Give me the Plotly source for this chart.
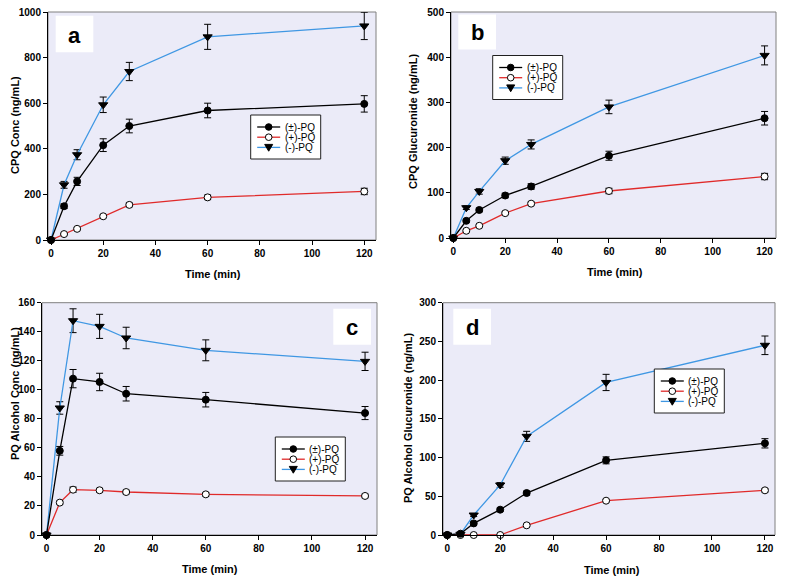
import plotly.graph_objects as go

W, H = 785, 577
OFF = 8  # page body margin offset in the browser
FONT = "Arial, Liberation Sans, sans-serif"

time_min = [0, 5, 10, 20, 30, 60, 120]
series_names = ["(±)-PQ", "(+)-PQ", "(-)-PQ"]

# Panel a: CPQ Conc (ng/mL)
a_rac = [0, 148, 257, 416, 500, 568, 597]
a_rac_err = [0, 10, 18, 28, 30, 32, 36]
a_plus = [0, 26, 49, 104, 154, 187, 213]
a_plus_err = [0, 4, 5, 6, 8, 10, 14]
a_minus = [0, 242, 374, 593, 739, 891, 939]
a_minus_err = [0, 15, 22, 34, 40, 55, 60]

# Panel b: CPQ Glucuronide (ng/mL)
b_rac = [0, 38, 62, 94, 114, 182, 265]
b_rac_err = [0, 3, 4, 5, 6, 10, 15]
b_plus = [0, 16, 27, 55, 76, 104, 136]
b_plus_err = [0, 2, 2, 3, 3, 6, 7]
b_minus = [0, 67, 103, 171, 207, 290, 404]
b_minus_err = [0, 4, 6, 8, 10, 15, 21]

# Panel c: PQ Alcohol Conc (ng/mL)
c_rac = [0, 58, 107.7, 105.4, 97.3, 93.2, 84]
c_rac_err = [0, 3, 6.3, 6, 5, 5, 4.5]
c_plus = [0, 22.3, 31.2, 30.8, 29.6, 28, 26.9]
c_plus_err = [0, 1, 1.8, 1.3, 1.2, 1.2, 1.2]
c_minus = [0, 87.5, 147.6, 143.7, 135.7, 127.2, 119.6]
c_minus_err = [0, 4.3, 8.2, 8.3, 7.4, 7.2, 6.3]

# Panel d: PQ Alcohol Glucuronide (ng/mL)
d_rac = [0, 1.7, 15, 32.7, 54.2, 96.4, 118.4]
d_rac_err = [0, 1, 2, 2, 2.5, 4.5, 6]
d_plus = [0, 0, 0, 0, 12.5, 44.3, 57.7]
d_plus_err = [0, 0, 0, 0, 1.5, 1.5, 2]
d_minus = [0, 1, 25.8, 64.6, 127.4, 197, 245]
d_minus_err = [0, 0.5, 2, 3, 6.5, 10.5, 12]

y_titles = ["CPQ Conc (ng/mL)", "CPQ Glucuronide (ng/mL)",
            "PQ Alcohol Conc (ng/mL)", "PQ Alcohol Glucuronide (ng/mL)"]
panel_letters = ["a", "b", "c", "d"]
x_ticks = [0, 20, 40, 60, 80, 100, 120]

BLACK = "#000000"
RED = "#e02a2a"
BLUE = "#3f97e3"
BG = "#ebebf8"

panels = [
    dict(data=[(a_minus, a_minus_err), (a_plus, a_plus_err), (a_rac, a_rac_err)],
         xpx=(48, 376), ypx=(12, 240), xr=[-1.15, 124.5], yr=[0, 1000], dt=200,
         box=(55.7, 15.7, 93.3, 52.3), leg=(250.7, 115),
         xt=(212.7, 274), yt=(8, 125)),
    dict(data=[(b_minus, b_minus_err), (b_plus, b_plus_err), (b_rac, b_rac_err)],
         xpx=(451, 776), ypx=(12, 238), xr=[-0.9, 124.4], yr=[0, 500], dt=100,
         box=(458.3, 14.5, 496, 49.5), leg=(492.7, 55.5),
         xt=(615, 271.7), yt=(413, 122)),
    dict(data=[(c_minus, c_minus_err), (c_plus, c_plus_err), (c_rac, c_rac_err)],
         xpx=(42, 377), ypx=(302.7, 535), xr=[-1.7, 124.5], yr=[0, 160], dt=20,
         box=(333.3, 308.7, 371, 344.7), leg=(275.3, 437),
         xt=(210, 569), yt=(7.5, 394)),
    dict(data=[(d_minus, d_minus_err), (d_plus, d_plus_err), (d_rac, d_rac_err)],
         xpx=(443, 775), ypx=(302.7, 535), xr=[-1.6, 123.8], yr=[0, 300], dt=50,
         box=(453.3, 308.7, 491, 344.7), leg=(654.3, 369),
         xt=(612, 569.7), yt=(408, 418)),
]

# style per series in drawing order: (-), (+), (±)
styles = [
    dict(name=series_names[2], color=BLUE, symbol="triangle-down", size=8, fill=BLACK),
    dict(name=series_names[1], color=RED, symbol="circle", size=7, fill="white"),
    dict(name=series_names[0], color=BLACK, symbol="circle", size=7, fill=BLACK),
]

def px_x(p):
    return min(max((p - OFF) / W, 0.0), 1.0)

def px_y(p):
    return min(max(1 - (p - OFF) / H, 0.0), 1.0)

fig = go.Figure()
shapes = []
annotations = []
layout_axes = {}

tick_font = dict(family=FONT, size=10, color="black", weight="bold")

for i, p in enumerate(panels):
    k = "" if i == 0 else str(i + 1)
    xa, ya = "x" + k, "y" + k
    for (vals, errs), st in zip(p["data"], styles):
        fig.add_trace(go.Scatter(
            x=time_min, y=vals, xaxis=xa, yaxis=ya, name=st["name"],
            mode="lines+markers", showlegend=False, cliponaxis=False,
            line=dict(color=st["color"], width=1.3),
            marker=dict(symbol=st["symbol"], size=st["size"], color=st["fill"],
                        line=dict(color=BLACK, width=1)),
            error_y=dict(type="data", array=errs, visible=True, color=BLACK,
                         thickness=1, width=3.5),
        ))
    xd = [px_x(p["xpx"][0]), px_x(p["xpx"][1])]
    yd = [px_y(p["ypx"][1]), px_y(p["ypx"][0])]
    layout_axes["xaxis" + k] = dict(
        domain=xd, anchor=ya, range=p["xr"], tickvals=x_ticks, ticks="outside",
        ticklen=4, tickcolor=BLACK, showline=True, linecolor=BLACK, linewidth=1,
        showgrid=False, zeroline=False, tickfont=tick_font, automargin=False,
        ticklabeloverflow="allow")
    layout_axes["yaxis" + k] = dict(
        domain=yd, anchor=xa, range=p["yr"], dtick=p["dt"], ticks="outside",
        ticklen=4, tickcolor=BLACK, showline=True, linecolor=BLACK, linewidth=1,
        showgrid=False, zeroline=False, tickfont=tick_font, automargin=False,
        ticklabeloverflow="allow")
    # background frame
    shapes.append(dict(type="rect", xref="paper", yref="paper",
                       x0=xd[0], x1=xd[1], y0=yd[0], y1=yd[1],
                       fillcolor=BG, line=dict(color="#808080", width=1), layer="below"))
    # panel letter box
    bx0, by0, bx1, by1 = p["box"]
    shapes.append(dict(type="rect", xref="paper", yref="paper",
                       x0=px_x(bx0), x1=px_x(bx1), y0=px_y(by1), y1=px_y(by0),
                       fillcolor="white", line=dict(width=0), layer="below"))
    annotations.append(dict(text="<b>%s</b>" % panel_letters[i], xref="paper", yref="paper",
                            x=px_x((bx0 + bx1) / 2), y=px_y((by0 + by1) / 2 + 1),
                            xanchor="center", yanchor="middle", showarrow=False,
                            font=dict(family=FONT, size=22, color="black")))
    # axis titles
    annotations.append(dict(text="<b>Time (min)</b>", xref="paper", yref="paper",
                            x=px_x(p["xt"][0]), y=px_y(p["xt"][1]), xanchor="center",
                            yanchor="middle", showarrow=False,
                            font=dict(family=FONT, size=11, color="black")))
    annotations.append(dict(text="<b>%s</b>" % y_titles[i], xref="paper", yref="paper",
                            x=px_x(max(p["yt"][0], OFF + 7)), y=px_y(p["yt"][1]),
                            xanchor="center", yanchor="middle", textangle=-90,
                            showarrow=False,
                            font=dict(family=FONT, size=11, color="black")))
    # legend box
    lx, ly = p["leg"]
    lw, lh = 70, 44
    shapes.append(dict(type="rect", xref="paper", yref="paper",
                       x0=px_x(lx), x1=px_x(lx + lw), y0=px_y(ly + lh), y1=px_y(ly),
                       fillcolor="white", line=dict(color="#202020", width=1)))
    leg_order = [styles[2], styles[1], styles[0]]
    for r, st in enumerate(leg_order):
        ry = ly + 12 + r * 10.2
        shapes.append(dict(type="line", xref="paper", yref="paper",
                           x0=px_x(lx + 6.5), x1=px_x(lx + 29.5), y0=px_y(ry), y1=px_y(ry),
                           line=dict(color=st["color"], width=1.3)))
        cx = lx + 18
        if st["symbol"] == "circle":
            rr = 3.3
            shapes.append(dict(type="circle", xref="paper", yref="paper",
                               x0=px_x(cx - rr), x1=px_x(cx + rr),
                               y0=px_y(ry + rr), y1=px_y(ry - rr),
                               fillcolor=st["fill"], line=dict(color=BLACK, width=1)))
        else:
            path = "M %f,%f L %f,%f L %f,%f Z" % (
                px_x(cx - 4), px_y(ry - 3), px_x(cx + 4), px_y(ry - 3),
                px_x(cx), px_y(ry + 3.8))
            shapes.append(dict(type="path", xref="paper", yref="paper", path=path,
                               fillcolor=BLACK, line=dict(color=BLACK, width=1)))
        annotations.append(dict(text=st["name"], xref="paper", yref="paper",
                                x=px_x(lx + 32), y=px_y(ry), xanchor="left",
                                yanchor="middle", showarrow=False,
                                font=dict(family=FONT, size=10, color="black")))

fig.update_layout(
    template="none",
    width=W, height=H, margin=dict(l=0, r=0, t=0, b=0, autoexpand=False),
    paper_bgcolor="white", plot_bgcolor="rgba(0,0,0,0)",
    showlegend=False, shapes=shapes, annotations=annotations,
    font=dict(family=FONT, color="black"),
    **layout_axes,
)

fig.write_html("out.html")
